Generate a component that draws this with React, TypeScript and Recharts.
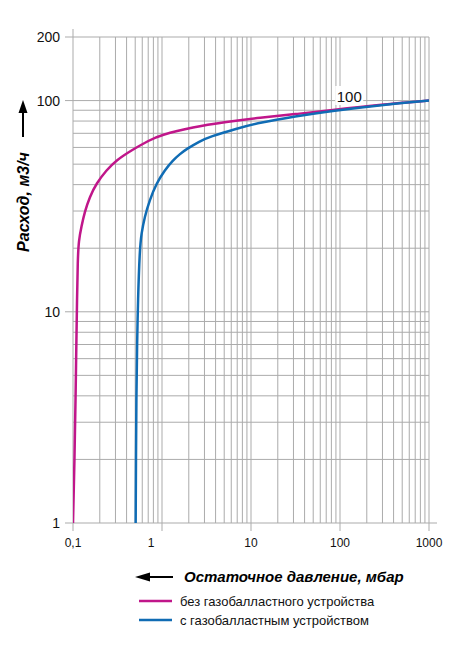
import React from 'react';
import { LineChart, Line, XAxis, YAxis, CartesianGrid, ReferenceDot } from 'recharts';

// pressure (mbar) grid values, log scale
const X_GRID = [
  0.1, 0.2, 0.3, 0.4, 0.5, 0.6, 0.7, 0.8, 0.9,
  1, 2, 3, 4, 5, 6, 7, 8, 9,
  10, 20, 30, 40, 50, 60, 70, 80, 90,
  100, 200, 300, 400, 500, 600, 700, 800, 900,
  1000,
];
const X_LABELED = [0.1, 1, 10, 100, 1000];
const X_LABELS = ['0,1', '1', '10', '100', '1000'];

// flow (m3/h) grid values, log scale
const Y_GRID = [1, 2, 3, 4, 5, 6, 7, 8, 9, 10, 20, 30, 40, 50, 60, 70, 80, 90, 100, 200];
const Y_LABELED = [1, 10, 100, 200];
const Y_LABELS = ['1', '10', '100', '200'];

// без газобалластного устройства
const noBallastP = [0.1, 0.104, 0.107, 0.109, 0.111, 0.113, 0.116, 0.1243, 0.1353, 0.154, 0.183, 0.237, 0.307, 0.453, 0.727, 0.942, 2.23, 5.29, 12.6, 31.6, 76.6, 300, 1000];
const noBallastQ = [1, 2, 4, 7, 11.4, 17.6, 21.8, 25.3, 29.7, 35, 40.5, 46.8, 52.2, 58.2, 65, 68.5, 75, 79.2, 83.1, 86.2, 90, 96, 100];

// с газобалластным устройством
const withBallastP = [0.506, 0.51, 0.515, 0.525, 0.537, 0.5615, 0.587, 0.639, 0.727, 0.865, 1.072, 1.33, 1.58, 1.88, 2.65, 3.44, 6.85, 12.6, 31.6, 76.6, 300, 1000];
const withBallastQ = [1, 2, 4, 7, 11.4, 19.6, 23.5, 28.2, 33.8, 40.5, 46.8, 52.2, 55.7, 58.9, 64.2, 67.4, 73.7, 78.7, 84.2, 89.2, 95.5, 100];

const SERIES = [
  { key: 'noBallast', name: 'без газобалластного устройства', color: '#c0168a', p: noBallastP, q: noBallastQ },
  { key: 'withBallast', name: 'с газобалластным устройством', color: '#106cb4', p: withBallastP, q: withBallastQ },
];

const NOTE = { p: 127, q: 104, text: '100' };

const W = 469;
const H = 651;
const PLOT_LEFT = 73;
const PLOT_TOP = 37;
const PLOT_RIGHT = 429;
const PLOT_BOTTOM = 523;
const GRID = '#ababab';
const FONT = "'Liberation Sans', Arial, sans-serif";

function XTick(props: any) {
  const { x, y, payload } = props;
  const i = X_LABELED.indexOf(payload.value);
  if (i < 0) return <g />;
  return (
    <g>
      <line x1={x} x2={x} y1={y} y2={y + 8} stroke={GRID} />
      {i === 0 && <line x1={x} x2={x} y1={PLOT_TOP - 8} y2={PLOT_TOP} stroke={GRID} />}
      <text x={x + (i === 1 ? -11 : 0)} y={y + 24} textAnchor="middle" fontSize={12} fill="#111" fontFamily={FONT}>
        {X_LABELS[i]}
      </text>
    </g>
  );
}

function YTick(props: any) {
  const { x, y, payload } = props;
  const i = Y_LABELED.indexOf(payload.value);
  if (i < 0) return <g />;
  return (
    <g>
      <line x1={x - 8} x2={x} y1={y} y2={y} stroke={GRID} />
      {i === 0 && <line x1={PLOT_RIGHT} x2={PLOT_RIGHT + 8} y1={y} y2={y} stroke={GRID} />}
      <text x={x - 13} y={y + 5} textAnchor="end" fontSize={14} fill="#111" fontFamily={FONT}>
        {Y_LABELS[i]}
      </text>
    </g>
  );
}

function NoteLabel(props: any) {
  const { cx, cy } = props;
  return (
    <g>
      <rect x={cx - 14} y={cy - 11} width={28} height={19} fill="#fff" />
      <text x={cx} y={cy + 5} textAnchor="middle" fontSize={15} fill="#111" fontFamily={FONT}>
        {NOTE.text}
      </text>
    </g>
  );
}

export default function App() {
  const data = SERIES.map((s) => s.p.map((p, i) => ({ p, q: s.q[i] })));

  return (
    <div style={{ position: 'absolute', left: 0, top: 0, width: W, height: H, background: '#fff' }}>
      <LineChart
        width={W}
        height={H}
        margin={{ top: PLOT_TOP, right: W - PLOT_RIGHT, left: PLOT_LEFT - 60, bottom: H - PLOT_BOTTOM - 30 }}
      >
        <CartesianGrid stroke={GRID} strokeWidth={1} />
        <XAxis
          dataKey="p"
          type="number"
          scale="log"
          domain={[0.1, 1000]}
          ticks={X_GRID}
          interval={0}
          allowDataOverflow
          axisLine={false}
          tickLine={false}
          tickSize={0}
          tickMargin={0}
          height={30}
          tick={<XTick />}
        />
        <YAxis
          dataKey="q"
          type="number"
          scale="log"
          domain={[1, 200]}
          ticks={Y_GRID}
          interval={0}
          allowDataOverflow
          axisLine={false}
          tickLine={false}
          tickSize={0}
          tickMargin={0}
          width={60}
          tick={<YTick />}
        />
        {SERIES.map((s, k) => (
          <Line
            key={s.key}
            data={data[k]}
            dataKey="q"
            name={s.name}
            type="basis"
            stroke={s.color}
            strokeWidth={2.5}
            dot={false}
            isAnimationActive={false}
          />
        ))}
        <ReferenceDot x={NOTE.p} y={NOTE.q} r={0} shape={<NoteLabel />} />
      </LineChart>

      <svg width={W} height={H} style={{ position: 'absolute', left: 0, top: 0, pointerEvents: 'none' }}>
        {/* y axis title with arrow */}
        <line x1={23} x2={23} y1={110} y2={137} stroke="#000" strokeWidth={2} />
        <polygon points="23,100 18.5,113 27.5,113" fill="#000" />
        <text
          x={29}
          y={202}
          transform="rotate(-90 29 202)"
          textAnchor="middle"
          fontSize={16}
          fontWeight="bold"
          fontStyle="italic"
          fontFamily={FONT}
          fill="#000"
        >
          Расход, м3/ч
        </text>

        {/* x axis title with arrow */}
        <line x1={146} x2={173} y1={577} y2={577} stroke="#000" strokeWidth={2} />
        <polygon points="135,577 150,572.5 150,581.5" fill="#000" />
        <text x={184} y={582} fontSize={15} fontWeight="bold" fontStyle="italic" fontFamily={FONT} fill="#000">
          Остаточное давление, мбар
        </text>

        {/* legend */}
        {SERIES.map((s, k) => (
          <g key={s.key}>
            <line x1={139} x2={172} y1={601 + k * 19} y2={601 + k * 19} stroke={s.color} strokeWidth={2.5} />
            <text x={180} y={605.5 + k * 19} fontSize={13} fontFamily={FONT} fill="#111">
              {s.name}
            </text>
          </g>
        ))}
      </svg>
    </div>
  );
}
